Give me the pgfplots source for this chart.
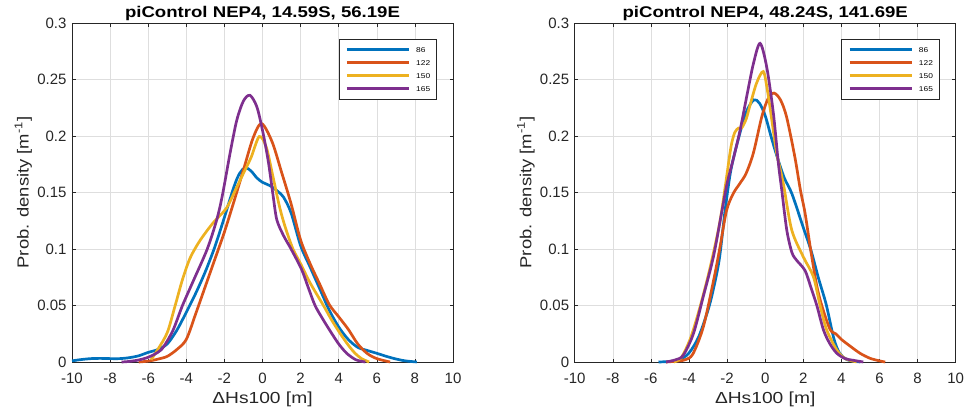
\documentclass[border=0pt]{standalone}
\usepackage{fontspec}
\setmainfont{Liberation Sans}
\usepackage{graphicx}
\usepackage{pgfplots}
\pgfplotsset{compat=1.18}
\newcommand{\sx}[1]{\scalebox{1.2}[1]{#1}}
\definecolor{c1}{rgb}{0,0.447,0.741}
\definecolor{c2}{rgb}{0.85,0.325,0.098}
\definecolor{c3}{rgb}{0.929,0.694,0.125}
\definecolor{c4}{rgb}{0.494,0.184,0.556}
\definecolor{axgray}{rgb}{0.15,0.15,0.15}
\pgfplotsset{
  myax/.style={
    anchor=south west, scale only axis, width=381pt, height=339pt,
    xmin=-10, xmax=10, ymin=0, ymax=0.3,
    xtick={-10,-8,-6,-4,-2,0,2,4,6,8,10},
    xticklabels={-10,-8,-6,-4,-2,0,2,4,6,8,10},
    ytick={0,0.05,0.1,0.15,0.2,0.25,0.3},
    yticklabels={0,0.05,0.1,0.15,0.2,0.25,0.3},
    grid=major, major grid style={draw=black!13, line width=0.5pt},
    axis line style={draw=axgray, line width=0.6pt},
    tick align=inside, major tick length=3.5pt,
    tick style={draw=axgray, line width=0.6pt},
    ticklabel style={font=\fontsize{15}{16}\selectfont, text=axgray},
    xticklabel style={anchor=base, yshift=-21pt},
    yticklabel style={anchor=east, xshift=-2pt},
    label style={font=\fontsize{16}{17}\selectfont, text=axgray},
    xlabel={\sx{ΔHs100 [m]}},
    ylabel={\scalebox{1.15}[1]{Prob. density [m\textsuperscript{-1}]}},
    xlabel style={at={(axis description cs:0.5,-0.109)}, anchor=center},
    ylabel style={at={(axis description cs:-0.128,0.5)}, anchor=center},
    every axis title shift=0pt,
    title style={font=\bfseries\fontsize{15.5}{16}\selectfont, at={(0.5,1)}, anchor=base, yshift=6pt},
    legend cell align=left,
    legend style={at={(0.958,0.953)}, anchor=north east, draw=axgray, line width=0.5pt, fill=white,
      font=\fontsize{7}{8}\selectfont, inner xsep=6.5pt, inner ysep=8pt, row sep=8pt, column sep=6pt,
      nodes={inner sep=0pt, text height=5pt, text depth=0pt}},
    legend image code/.code={\draw[#1, line width=2.7pt] (0pt,0pt) -- (62pt,0pt);},
    clip=false,
    every axis plot/.append style={line width=2.7pt, smooth, tension=0.5},
  }
}
\begin{document}
\begin{tikzpicture}
\useasboundingbox (0,0) rectangle (967pt,413pt);
\begin{axis}[myax, at={(72pt,51pt)}, title={\sx{piControl NEP4, 14.59S, 56.19E}}]
\addplot[c1] coordinates {(-10,0.001) (-9.5,0.0022) (-9,0.003) (-8.5,0.0032) (-8,0.003) (-7.5,0.003) (-7,0.0038) (-6.5,0.0055) (-6,0.0085) (-5.5,0.011) (-5,0.016) (-4.5,0.028) (-4,0.044) (-3.5,0.061) (-3,0.08) (-2.5,0.102) (-2,0.128) (-1.5,0.155) (-1.2,0.167) (-0.9,0.172) (-0.6,0.169) (-0.3,0.163) (0,0.159) (0.4,0.156) (0.8,0.151) (1.1,0.146) (1.5,0.132) (2,0.103) (2.5,0.084) (3,0.065) (3.5,0.046) (4,0.031) (4.5,0.02) (5,0.013) (5.5,0.0102) (6,0.0077) (6.5,0.005) (7,0.0027) (7.5,0.001) (8.1,0)};
\addlegendentry{\sx{86}}
\addplot[c2] coordinates {(-6.5,0) (-6,0.0008) (-5.5,0.0025) (-5,0.005) (-4.5,0.011) (-4,0.02) (-3.5,0.043) (-3,0.067) (-2.5,0.091) (-2,0.115) (-1.5,0.142) (-1,0.17) (-0.5,0.198) (-0.05,0.211) (0.5,0.195) (1,0.168) (1.5,0.14) (2,0.108) (2.5,0.087) (3,0.069) (3.5,0.051) (4,0.04) (4.5,0.029) (5,0.016) (5.5,0.0075) (6,0.003) (6.7,0)};
\addlegendentry{\sx{122}}
\addplot[c3] coordinates {(-5.85,0.002) (-5.5,0.011) (-5,0.026) (-4.6,0.049) (-4.2,0.073) (-3.8,0.092) (-3.3,0.107) (-2.6,0.123) (-1.9,0.136) (-1.4,0.153) (-1,0.167) (-0.6,0.181) (-0.17,0.1995) (0.2,0.19) (0.55,0.164) (0.9,0.137) (1.2,0.119) (1.6,0.1) (2,0.087) (2.5,0.07) (3.2,0.05) (3.6,0.038) (4.07,0.0254) (4.5,0.015) (4.86,0.0077) (5.2,0.003) (5.6,0)};
\addlegendentry{\sx{150}}
\addplot[c4] coordinates {(-7.4,0) (-7,0.0005) (-6.5,0.0018) (-6,0.0042) (-5.5,0.0085) (-5.2,0.0133) (-4.7,0.028) (-4.2,0.05) (-3.6,0.073) (-2.9,0.1) (-2.4,0.126) (-2.1,0.148) (-1.7,0.185) (-1.35,0.214) (-1,0.231) (-0.66,0.236) (-0.3,0.226) (0,0.205) (0.3,0.178) (0.55,0.148) (0.75,0.126) (1.1,0.112) (1.5,0.1) (2.05,0.082) (2.4,0.066) (2.76,0.05) (3.2,0.037) (3.63,0.0254) (4,0.016) (4.42,0.0077) (4.9,0.002) (5.4,0)};
\addlegendentry{\sx{165}}
\end{axis}
\begin{axis}[myax, at={(574.7pt,51pt)}, title={\sx{piControl NEP4, 48.24S, 141.69E}}]
\addplot[c1] coordinates {(-5.6,0) (-5,0.0005) (-4.5,0.0018) (-4,0.008) (-3.5,0.022) (-3,0.046) (-2.7,0.066) (-2.4,0.092) (-2.1,0.135) (-1.8,0.17) (-1.4,0.198) (-1,0.221) (-0.6,0.232) (-0.3,0.229) (0,0.218) (0.3,0.2) (0.6,0.183) (1,0.163) (1.4,0.149) (2,0.119) (2.4,0.099) (2.8,0.074) (3.2,0.051) (3.6,0.021) (3.9,0.008) (4.3,0.002) (5,0)};
\addlegendentry{\sx{86}}
\addplot[c2] coordinates {(-5.2,0) (-4.6,0.0008) (-4.2,0.002) (-3.8,0.007) (-3.25,0.031) (-2.7,0.073) (-2.37,0.102) (-2.03,0.134) (-1.68,0.149) (-1.33,0.158) (-1,0.167) (-0.62,0.185) (-0.18,0.217) (0.15,0.233) (0.46,0.238) (0.8,0.232) (1.12,0.217) (1.55,0.182) (1.85,0.152) (2.09,0.132) (2.38,0.1) (2.7,0.068) (2.97,0.05) (3.4,0.029) (3.7,0.025) (4,0.02) (4.5,0.0135) (5,0.0075) (5.5,0.0033) (6,0.001) (6.3,0)};
\addlegendentry{\sx{122}}
\addplot[c3] coordinates {(-4.8,0) (-4.4,0.004) (-3.9,0.022) (-3.4,0.05) (-2.9,0.083) (-2.4,0.122) (-2.1,0.155) (-1.8,0.19) (-1.6,0.203) (-1.4,0.207) (-1.24,0.207) (-1,0.215) (-0.8,0.227) (-0.45,0.247) (-0.1,0.257) (0.11,0.241) (0.34,0.215) (0.6,0.185) (0.95,0.158) (1.39,0.117) (2,0.093) (2.53,0.0755) (2.88,0.05) (3.23,0.0283) (3.76,0.0106) (4.2,0.003) (4.8,0)};
\addlegendentry{\sx{150}}
\addplot[c4] coordinates {(-5.2,0) (-4.7,0.002) (-4.3,0.006) (-3.77,0.025) (-3.25,0.058) (-2.72,0.093) (-2.29,0.132) (-2,0.158) (-1.67,0.18) (-1.32,0.205) (-0.97,0.235) (-0.62,0.264) (-0.27,0.282) (0.08,0.261) (0.43,0.22) (0.69,0.176) (0.87,0.152) (1.13,0.117) (1.4,0.097) (1.65,0.09) (2.09,0.081) (2.4,0.066) (2.71,0.05) (3.06,0.0283) (3.4,0.016) (3.76,0.0077) (4.2,0.003) (4.63,0.0015) (5.15,0)};
\addlegendentry{\sx{165}}
\end{axis}
\end{tikzpicture}
\end{document}
